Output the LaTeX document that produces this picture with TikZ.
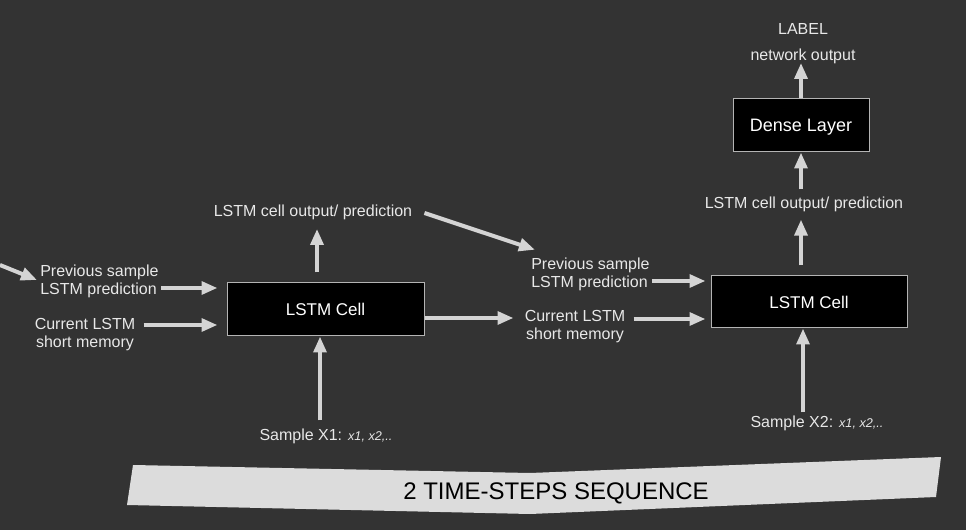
\documentclass[tikz,border=0pt]{standalone}
\usepackage{fontspec}
\setmainfont{Liberation Sans}
\usetikzlibrary{arrows.meta,calc}
\definecolor{bgc}{HTML}{333333}
\definecolor{txt}{HTML}{E8E8E8}
\definecolor{arc}{HTML}{D4D4D4}
\definecolor{band}{HTML}{DCDCDC}
\definecolor{edge}{HTML}{B4B4B4}
\begin{document}
\begin{tikzpicture}[x=0.75pt,y=-0.75pt,
 lbl/.style={text=txt,font=\fontsize{12}{13.5}\selectfont,inner sep=0pt},
 cellbox/.style={draw=edge,line width=0.75pt,fill=black,text=white,font=\fontsize{12.75}{14}\selectfont,inner sep=0pt,text depth=0pt},
 arr/.style={draw=arc,line width=3pt,-{Triangle[length=12pt,width=9.5pt]}}]
\fill[bgc] (0,0) rectangle (966,530);
\useasboundingbox (0,0) rectangle (966,530);
% band
\fill[band] (133,465) -- (530,473) -- (941,457) -- (936,497) -- (530,514) -- (127,505) -- cycle;
\node[font=\fontsize{18}{20}\selectfont,text=black,inner sep=0pt] (title) at (556,493.5) {2 TIME-STEPS SEQUENCE};
% boxes
\node[cellbox,minimum width=147.75pt,minimum height=39.75pt] (cell1) at (325.5,309.5) {LSTM Cell};
\node[cellbox,minimum width=147pt,minimum height=39pt] (cell2) at (809,302) {LSTM Cell};
\node[cellbox,minimum width=102pt,minimum height=39.75pt,font=\fontsize{13.5}{15}\selectfont] (dense) at (801,125.5) {Dense Layer};
% labels
\node[lbl] (label) at (803,29.5) {LABEL};
\node[lbl] (netout) at (803,56.5) {network output};
\node[lbl] (out2) at (804,204.5) {LSTM cell output/ prediction};
\node[lbl] (out1) at (313,212.5) {LSTM cell output/ prediction};
\node[lbl,align=left,anchor=west] (prev1) at (40,281.5) {Previous sample\\LSTM prediction};
\node[lbl,align=center] (cur1) at (85,334.5) {Current LSTM\\short memory};
\node[lbl,align=left,anchor=west] (prev2) at (531,274) {Previous sample\\LSTM prediction};
\node[lbl,align=center] (cur2) at (575,326.5) {Current LSTM\\short memory};
\node[lbl] (samp1) at (326,436.5) {Sample X1: {\itshape\fontsize{9.5}{11}\selectfont x1, x2,..}};
\node[lbl] (samp2) at (817,423.5) {Sample X2: {\itshape\fontsize{9.5}{11}\selectfont x1, x2,..}};
% connectors
\coordinate (in0) at (0,265);
\draw[arr] (in0) -- ($(prev1.west)+(-3,-1.5)$);
\path ([shift={(2,6.5)}]prev1.east) coordinate (a2);
\draw[arr,shorten >=6.75pt] (a2) -- (a2 -| cell1.west);
\path ([shift={(8,-9.5)}]cur1.east) coordinate (a3);
\draw[arr,shorten >=6.75pt] (a3) -- (a3 -| cell1.west);
\path ([shift={(-6,-8.5)}]samp1.north) coordinate (a4);
\draw[arr] (a4) -- (a4 |- cell1.south);
\path ([shift={(-8.5,-10)}]cell1.north) coordinate (a5);
\draw[arr,shorten >=6.5pt] (a5) -- (a5 |- out1.south);
\draw[arr] ([shift={(12,0.5)}]out1.east) -- ([shift={(4,-7.5)}]prev2.north west);
\path ([shift={(0,8.5)}]cell1.east) coordinate (a7);
\draw[arr,shorten >=8.25pt] (a7) -- (a7 -| cur2.west);
\path ([shift={(2,7)}]prev2.east) coordinate (a8);
\draw[arr,shorten >=3.75pt] (a8) -- (a8 -| cell2.west);
\path ([shift={(8,-7.5)}]cur2.east) coordinate (a9);
\draw[arr,shorten >=3.75pt] (a9) -- (a9 -| cell2.west);
\path ([shift={(-14,-3.5)}]samp2.north) coordinate (a10);
\draw[arr] (a10) -- (a10 |- cell2.south);
\path ([shift={(-8,-10)}]cell2.north) coordinate (a11);
\draw[arr,shorten >=5.5pt] (a11) -- (a11 |- out2.south);
\path ([shift={(-3,-7.5)}]out2.north) coordinate (a12);
\draw[arr] (a12) -- (a12 |- dense.south);
\draw[arr,shorten >=-1pt] (dense.north) -- (dense.north |- netout.south);
\end{tikzpicture}
\end{document}
